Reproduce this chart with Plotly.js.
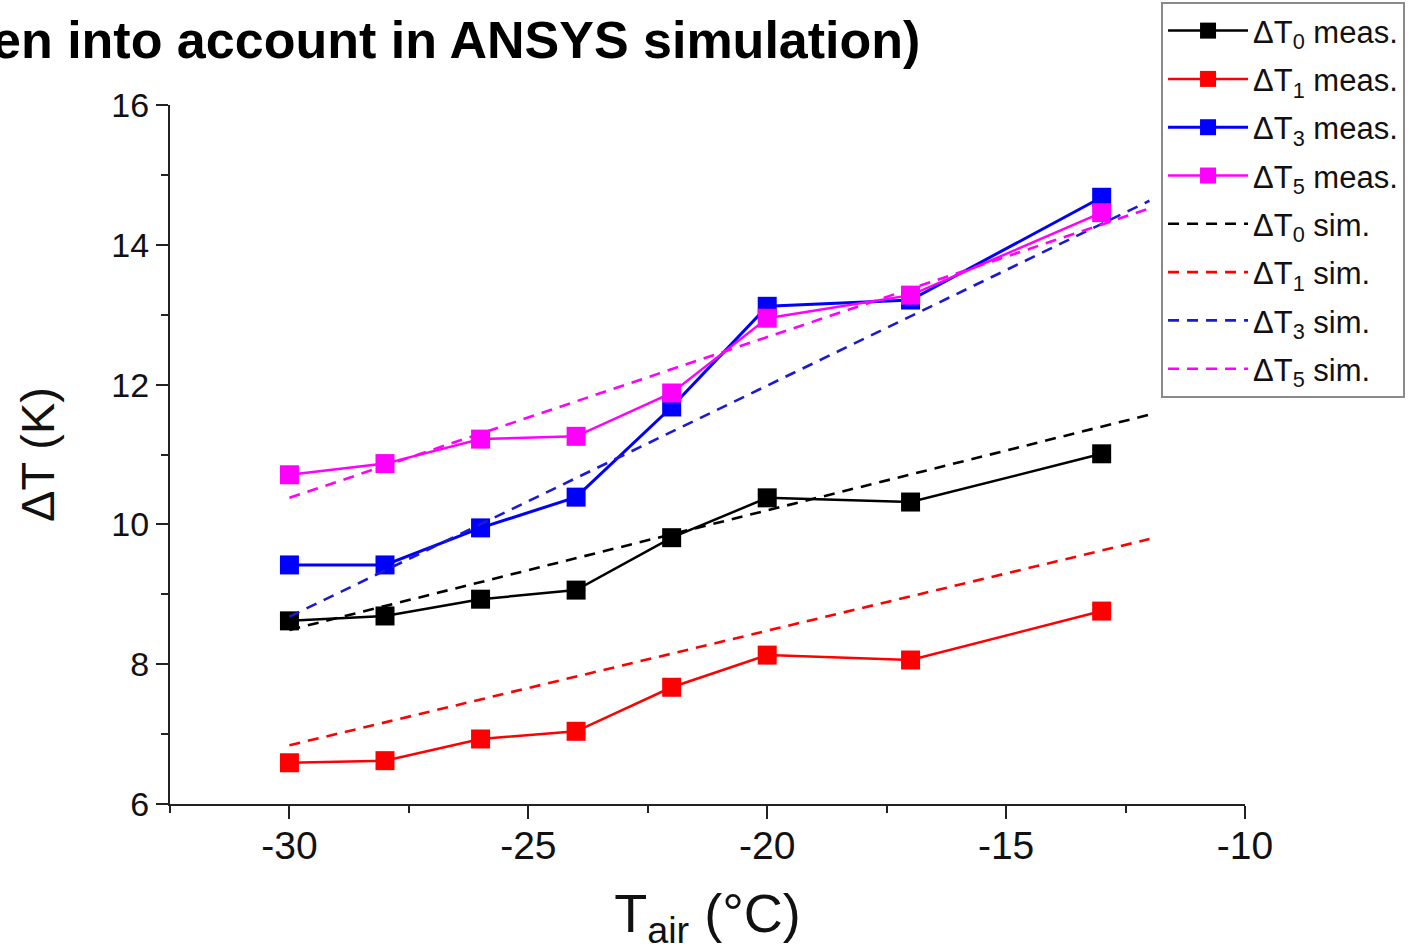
<!DOCTYPE html>
<html>
<head>
<meta charset="utf-8">
<script src="https://cdn.plot.ly/plotly-3.0.1.min.js"></script>
<style>html,body{margin:0;padding:0;background:#fff;}#chart{width:1428px;height:952px;}</style>
</head>
<body>
<div id="chart"></div>
<script>
// Measured series
const tAirMeas = [-30, -28, -26, -24, -22, -20, -17, -13];
const dT0meas = [8.62, 8.69, 8.93, 9.06, 9.81, 10.38, 10.32, 11.01];
const dT1meas = [6.59, 6.62, 6.93, 7.04, 7.67, 8.13, 8.06, 8.76];
const dT3meas = [9.42, 9.42, 9.95, 10.39, 11.68, 13.12, 13.21, 14.68];
const dT5meas = [10.71, 10.87, 11.22, 11.26, 11.88, 12.95, 13.28, 14.46];

// Simulated series
const tAirSim = [-30, -12];
const dT0sim = [8.49, 11.57];
const dT1sim = [6.84, 9.79];
const dT3sim = [8.68, 14.63];
const dT5sim = [10.38, 14.52];

// Tick labels
const xTickVals = [-30, -25, -20, -15, -10];
const xTickText = ['-30', '-25', '-20', '-15', '-10'];
const yTickVals = [6, 8, 10, 12, 14, 16];
const yTickText = ['6', '8', '10', '12', '14', '16'];

const xTitle = 'T<sub>air</sub> (°C)';
const yTitle = 'ΔT (K)';
const headerText = 'en into account in ANSYS simulation)';

const C = {k: '#000000', r: '#ff0000', b: '#0000ff', m: '#ff00ff', bd: '#1a1ad6'};

function meas(y, name, color, w) {
  return {x: tAirMeas, y: y, name: name, type: 'scatter', mode: 'lines+markers',
    line: {color: color, width: w},
    marker: {symbol: 'square', size: 19, color: color},
    legendgroup: name};
}
function sim(y, name, color) {
  return {x: tAirSim, y: y, name: name, type: 'scatter', mode: 'lines',
    line: {color: color, width: 2.6, dash: '11px,8px'},
    legendgroup: name};
}

const data = [
  meas(dT0meas, 'ΔT<sub>0</sub> meas.', C.k, 2.5),
  meas(dT1meas, 'ΔT<sub>1</sub> meas.', C.r, 2.5),
  meas(dT3meas, 'ΔT<sub>3</sub> meas.', C.b, 3),
  meas(dT5meas, 'ΔT<sub>5</sub> meas.', C.m, 2.5),
  sim(dT0sim, 'ΔT<sub>0</sub> sim.', C.k),
  sim(dT1sim, 'ΔT<sub>1</sub> sim.', C.r),
  sim(dT3sim, 'ΔT<sub>3</sub> sim.', C.bd),
  sim(dT5sim, 'ΔT<sub>5</sub> sim.', C.m)
];

const layout = {
  width: 1428, height: 952,
  margin: {l: 170, r: 183, t: 105, b: 148, autoexpand: false},
  paper_bgcolor: '#ffffff', plot_bgcolor: '#ffffff',
  font: {family: 'Liberation Sans, Arial, sans-serif', color: '#111'},
  showlegend: true,
  legend: {
    x: 0.9219, y: 1.1474, xanchor: 'left', yanchor: 'top',
    bgcolor: '#ffffff', bordercolor: '#8a8a8a', borderwidth: 2,
    font: {size: 31, color: '#111', family: 'Liberation Sans, Arial, sans-serif'},
    itemwidth: 80, tracegroupgap: 5, traceorder: 'grouped'
  },
  xaxis: {
    range: [-32.5, -10], tickmode: 'array', tickvals: xTickVals, ticktext: xTickText,
    showgrid: false, zeroline: false,
    showline: true, linecolor: '#222', linewidth: 2, mirror: false,
    ticks: 'outside', ticklen: 13, tickwidth: 2, tickcolor: '#222',
    ticklabelstandoff: -7,
    minor: {tickmode: 'linear', tick0: -32.5, dtick: 2.5, ticks: 'outside', ticklen: 7, tickwidth: 2, tickcolor: '#222', showgrid: false},
    tickfont: {size: 39, color: '#111'},
    title: {text: xTitle, font: {size: 54, color: '#111'}, standoff: 28},
    automargin: false
  },
  yaxis: {
    range: [6, 16], tickmode: 'array', tickvals: yTickVals, ticktext: yTickText,
    showgrid: false, zeroline: false,
    showline: true, linecolor: '#222', linewidth: 2, mirror: false,
    ticks: 'outside', ticklen: 12, tickwidth: 2, tickcolor: '#222',
    minor: {tickmode: 'linear', tick0: 6, dtick: 1, ticks: 'outside', ticklen: 7, tickwidth: 2, tickcolor: '#222', showgrid: false},
    tickfont: {size: 34, color: '#111'},
    title: {text: yTitle, font: {size: 47, color: '#111'}, standoff: 42},
    automargin: false
  },
  annotations: [{
    text: headerText, xref: 'paper', yref: 'paper',
    x: 0.6995, y: 1.093, xanchor: 'right', yanchor: 'middle',
    showarrow: false, font: {size: 52, color: '#000', weight: 'bold', family: 'Liberation Sans, Arial, sans-serif'}
  }]
};

Plotly.newPlot('chart', data, layout, {displayModeBar: false, responsive: false});
</script>
</body>
</html>
